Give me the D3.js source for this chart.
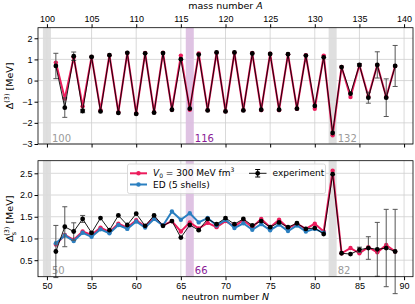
<!DOCTYPE html>
<html>
<head>
<meta charset="utf-8">
<script src="https://cdn.jsdelivr.net/npm/d3@7"></script>
<style>
  body { margin: 0; background: #fff; }
  svg { display: block; font-family: "DejaVu Sans", sans-serif; }
  .tick text { font-size: 9px; fill: #000; }
  .tick line { stroke: #000; }
  .domain { display: none; }
</style>
</head>
<body>
<div id="chart"></div>
<script>
// neutron numbers (Z = 50, so A = N + 50)
const neutronN = [51, 52, 53, 54, 55, 56, 57, 58, 59, 60, 61, 62, 63, 64, 65, 66, 67, 68, 69, 70,
  71, 72, 73, 74, 75, 76, 77, 78, 79, 80, 81, 82, 83, 84, 85, 86, 87, 88, 89];
const edN = neutronN.slice(0, 31);

// top panel: Delta^(3)
const expTop = [0.69, -1.28, 1.15, -1.44, 1.12, -1.46, 1.20, -1.53, 1.31, -1.58, 1.29, -1.52, 1.30, -1.38, 1.01,
  -1.33, 1.23, -1.41, 1.33, -1.46, 1.33, -1.41, 1.28, -1.38, 1.26, -1.38, 1.25, -1.33, 1.18, -1.20, 1.10,
  -2.48, 0.64, -0.62, 0.74, -0.81, 0.74, -0.81, 0.69];
const v0Top = [0.85, -0.85, 1.10, -1.22, 1.12, -1.40, 1.20, -1.50, 1.30, -1.55, 1.30, -1.50, 1.32, -1.38, 1.18,
  -1.38, 1.28, -1.40, 1.32, -1.45, 1.32, -1.40, 1.30, -1.40, 1.27, -1.40, 1.25, -1.33, 1.20, -1.33, 1.18,
  -2.59, 0.64, -0.78, 0.74, -0.76, 0.74, -0.78, 0.69];

// bottom panel: smoothed Delta_s^(3)
const expBot = [0.70, 1.27, 1.16, 1.45, 1.13, 1.47, 1.19, 1.53, 1.31, 1.57, 1.29, 1.53, 1.29, 1.40, 1.02,
  1.31, 1.19, 1.45, 1.33, 1.47, 1.33, 1.45, 1.30, 1.40, 1.26, 1.37, 1.26, 1.35, 1.22, 1.24, 1.10,
  2.48, 0.66, 0.64, 0.74, 0.78, 0.75, 0.78, 0.70];
const v0Bot = [0.86, 1.08, 0.97, 1.16, 1.08, 1.25, 1.15, 1.34, 1.25, 1.42, 1.28, 1.47, 1.30, 1.40, 1.16,
  1.37, 1.23, 1.36, 1.26, 1.40, 1.28, 1.42, 1.26, 1.45, 1.26, 1.43, 1.24, 1.34, 1.22, 1.34, 1.16,
  2.56, 0.66, 0.78, 0.66, 0.80, 0.68, 0.85, 0.70];
const edBot = [0.89, 1.07, 0.94, 1.13, 1.04, 1.21, 1.12, 1.31, 1.22, 1.39, 1.25, 1.45, 1.30, 1.62, 1.43,
  1.58, 1.37, 1.47, 1.30, 1.43, 1.24, 1.35, 1.20, 1.33, 1.19, 1.32, 1.17, 1.30, 1.16, 1.22, 1.13];

// experimental uncertainties (same for both panels)
const expErr = [0.60, 0.46, 0.20, 0.08, 0.02, 0, 0, 0, 0, 0, 0, 0, 0, 0, 0, 0, 0, 0, 0, 0,
  0, 0, 0, 0, 0, 0, 0, 0, 0, 0, 0, 0, 0, 0, 0.06, 0.26, 0.62, 0.89, 0.97];

// magic / sub-shell markers
const bandN = [50, 66, 82];
const bandKind = ["magic", "sub", "magic"];

const xTicks = [50, 55, 60, 65, 70, 75, 80, 85, 90];
const topYTicks = [2, 1, 0, -1, -2, -3];
const botYTicks = [0.5, 1.0, 1.5, 2.0, 2.5];

const width = 415, height = 304;
const margin = { left: 38, right: 2 };
const RED = "#ec1c5c", BLUE = "#2a7fc0", GREY_BAND = "#dcdcdc", PURPLE_BAND = "#dcbde0";

const svg = d3.select("#chart").append("svg")
  .attr("width", width).attr("height", height);

const x = d3.scaleLinear().domain([49, 91]).range([margin.left, width - margin.right]);
const yTop = d3.scaleLinear().domain([-3, 2.5]).range([144, 27.7]);
const yBot = d3.scaleLinear().domain([0.12, 2.79]).range([276.7, 160.7]);

function drawPanel(y, yTicks, massAxis) {
  const [y0, y1] = y.range();
  const g = svg.append("g");

  // grid
  g.selectAll(".gx").data(xTicks).join("line")
    .attr("x1", d => x(d)).attr("x2", d => x(d))
    .attr("y1", y1).attr("y2", y0)
    .attr("stroke", "#cfcfcf").attr("stroke-width", 0.8);
  g.selectAll(".gy").data(yTicks).join("line")
    .attr("x1", x.range()[0]).attr("x2", x.range()[1])
    .attr("y1", d => y(d)).attr("y2", d => y(d))
    .attr("stroke", "#cfcfcf").attr("stroke-width", 0.8);

  // shaded bands
  g.selectAll(".band").data(bandN).join("rect")
    .attr("x", d => x(d - 0.45))
    .attr("width", x(0.9) - x(0))
    .attr("y", y1).attr("height", y0 - y1)
    .attr("fill", (d, i) => bandKind[i] === "sub" ? PURPLE_BAND : GREY_BAND)
    .attr("opacity", 0.9);

  g.selectAll(".bandlbl").data(bandN).join("text")
    .attr("x", d => x(d + 0.45) + 1)
    .attr("y", y0 - 2.5)
    .attr("font-size", 10)
    .attr("fill", (d, i) => bandKind[i] === "sub" ? "#8a1a96" : "#9a9a9a")
    .text(d => massAxis ? d + 50 : d);

  return g;
}

function drawAxes(y, yTicks, fmt, showBottomLabels, showTopMass) {
  const [y0, y1] = y.range();
  svg.append("g")
    .attr("transform", `translate(${margin.left},0)`)
    .call(d3.axisLeft(y).tickValues(yTicks).tickFormat(fmt).tickSize(3.5).tickPadding(2));

  const bottom = svg.append("g")
    .attr("transform", `translate(0,${y0})`)
    .call(d3.axisBottom(x).tickValues(xTicks).tickSize(3.5).tickPadding(2));
  if (!showBottomLabels) bottom.selectAll("text").remove();

  if (showTopMass) {
    svg.append("g")
      .attr("transform", `translate(0,${y1})`)
      .call(d3.axisTop(x).tickValues(xTicks).tickFormat(d => d + 50).tickSize(3.5).tickPadding(2));
  }

  svg.append("rect")
    .attr("x", x.range()[0]).attr("y", y1)
    .attr("width", x.range()[1] - x.range()[0]).attr("height", y0 - y1)
    .attr("fill", "none").attr("stroke", "#000").attr("stroke-width", 0.8);
}

function drawSeries(g, y, xs, ys, color, lw, r) {
  const line = d3.line().x((d, i) => x(xs[i])).y(d => y(d));
  g.append("path").datum(ys)
    .attr("fill", "none").attr("stroke", color)
    .attr("stroke-width", lw).attr("stroke-linejoin", "round")
    .attr("d", line);
  g.selectAll(null).data(ys).join("circle")
    .attr("cx", (d, i) => x(xs[i])).attr("cy", d => y(d))
    .attr("r", r).attr("fill", color);
}

function drawExperiment(g, y, ys) {
  const eb = g.append("g");
  const withErr = ys.map((d, i) => ({ n: neutronN[i], v: d, e: expErr[i] })).filter(d => d.e > 0);
  eb.selectAll("line.bar").data(withErr).join("line")
    .attr("x1", d => x(d.n)).attr("x2", d => x(d.n))
    .attr("y1", d => y(d.v - d.e)).attr("y2", d => y(d.v + d.e))
    .attr("stroke", "#555").attr("stroke-width", 1);
  [-1, 1].forEach(s => {
    eb.selectAll(null).data(withErr).join("line")
      .attr("x1", d => x(d.n) - 2.5).attr("x2", d => x(d.n) + 2.5)
      .attr("y1", d => y(d.v + s * d.e)).attr("y2", d => y(d.v + s * d.e))
      .attr("stroke", "#555").attr("stroke-width", 1);
  });
  drawSeries(g, y, neutronN, ys, "#000", 0.9, 2.4);
}

// top panel
const gTop = drawPanel(yTop, topYTicks, true);
drawSeries(gTop, yTop, neutronN, v0Top, RED, 2, 2.2);
drawExperiment(gTop, yTop, expTop);
drawAxes(yTop, topYTicks, d => d3.format("d")(d).replace("-", "\u2212"), false, true);

// bottom panel
const gBot = drawPanel(yBot, botYTicks, false);
drawSeries(gBot, yBot, neutronN, v0Bot, RED, 2, 2.2);
drawSeries(gBot, yBot, edN, edBot, BLUE, 2, 2.2);
drawExperiment(gBot, yBot, expBot);
drawAxes(yBot, botYTicks, d3.format(".1f"), true, false);

// legend
const leg = svg.append("g");
leg.append("rect")
  .attr("x", 127.5).attr("y", 164).attr("width", 198).attr("height", 29.5).attr("rx", 2)
  .attr("fill", "#fff").attr("fill-opacity", 0.8).attr("stroke", "#d0d0d0").attr("stroke-width", 0.8);
const legItems = [
  { c: RED, y: 173.3, x: 130 },
  { c: BLUE, y: 184.5, x: 130 }
];
legItems.forEach(d => {
  leg.append("line").attr("x1", d.x).attr("x2", d.x + 17).attr("y1", d.y).attr("y2", d.y)
    .attr("stroke", d.c).attr("stroke-width", 2);
  leg.append("circle").attr("cx", d.x + 8.5).attr("cy", d.y).attr("r", 2.2).attr("fill", d.c);
});
const t1 = leg.append("text").attr("x", 153).attr("y", 176.3).attr("font-size", 9);
t1.append("tspan").attr("font-style", "italic").text("V");
t1.append("tspan").attr("font-size", 6).attr("dy", 1.5).text("0");
t1.append("tspan").attr("dy", -1.5).text(" = 300 MeV fm");
t1.append("tspan").attr("font-size", 6).attr("dy", -4).text("3");
leg.append("text").attr("x", 153).attr("y", 188).attr("font-size", 9).text("ED (5 shells)");
leg.append("line").attr("x1", 249).attr("x2", 266.5).attr("y1", 173.3).attr("y2", 173.3)
  .attr("stroke", "#000").attr("stroke-width", 0.9);
leg.append("line").attr("x1", 257.7).attr("x2", 257.7).attr("y1", 169.5).attr("y2", 177)
  .attr("stroke", "#000").attr("stroke-width", 1);
[169.5, 177].forEach(yy => leg.append("line").attr("x1", 255.2).attr("x2", 260.2)
  .attr("y1", yy).attr("y2", yy).attr("stroke", "#000").attr("stroke-width", 1));
leg.append("circle").attr("cx", 257.7).attr("cy", 173.3).attr("r", 2.4).attr("fill", "#000");
leg.append("text").attr("x", 272.5).attr("y", 176.3).attr("font-size", 9).text("experiment");

// axis titles
const topTitle = svg.append("text").attr("x", 225.5).attr("y", 8.5)
  .attr("text-anchor", "middle").attr("font-size", 9.5);
topTitle.append("tspan").text("mass number ");
topTitle.append("tspan").attr("font-style", "italic").text("A");

const botTitle = svg.append("text").attr("x", 225.5).attr("y", 300)
  .attr("text-anchor", "middle").attr("font-size", 9.5);
botTitle.append("tspan").text("neutron number ");
botTitle.append("tspan").attr("font-style", "italic").text("N");

const yl1 = svg.append("text")
  .attr("transform", `translate(13,${(27.7 + 144) / 2}) rotate(-90)`)
  .attr("text-anchor", "middle").attr("font-size", 9.5);
yl1.append("tspan").text("\u0394");
yl1.append("tspan").attr("font-size", 6.5).attr("dy", -4).text("(3)");
yl1.append("tspan").attr("dy", 4).text(" [MeV]");

const yl2 = svg.append("text")
  .attr("transform", `translate(13,${(160.7 + 276.7) / 2}) rotate(-90)`)
  .attr("text-anchor", "middle").attr("font-size", 9.5);
yl2.append("tspan").text("\u0394");
yl2.append("tspan").attr("font-size", 6.5).attr("dy", 2.5).text("s");
yl2.append("tspan").attr("font-size", 6.5).attr("dx", -4).attr("dy", -7).text("(3)");
yl2.append("tspan").attr("dy", 4.5).text(" [MeV]");
</script>
</body>
</html>
